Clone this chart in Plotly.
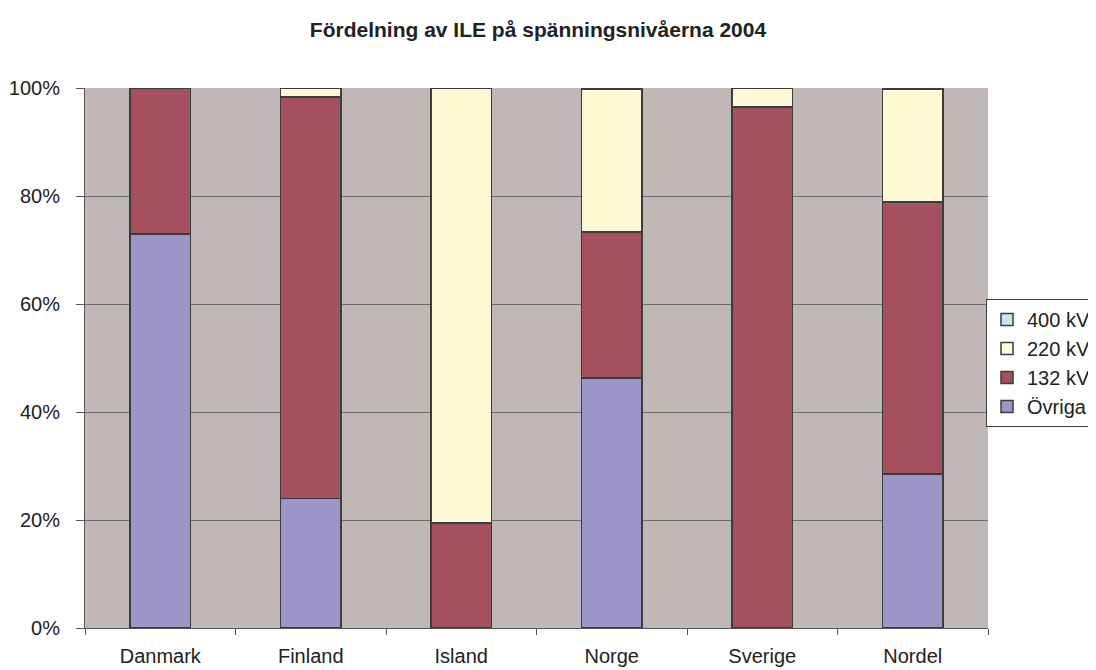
import plotly.graph_objects as go

categories = ["Danmark", "Finland", "Island", "Norge", "Sverige", "Nordel"]
ovriga = [73.0, 24.0, 0.0, 46.3, 0.0, 28.5]
kv132 = [27.0, 74.3, 19.4, 27.0, 96.5, 50.4]
kv220 = [0.0, 1.7, 80.6, 26.4, 3.5, 20.8]
kv400 = [0.0, 0.0, 0.0, 0.3, 0.0, 0.3]
y_ticks = [0, 20, 40, 60, 80, 100]
y_tick_labels = ["0%", "20%", "40%", "60%", "80%", "100%"]

series = [
    ("Övriga", ovriga, "#9C96C8"),
    ("132 kV", kv132, "#A5505E"),
    ("220 kV", kv220, "#FFFAD6"),
    ("400 kV", kv400, "#C2EAF2"),
]

W, H = 1088, 662  # page adds an 8px body margin

fig = go.Figure()
for name, vals, col in series:
    fig.add_trace(go.Bar(
        x=categories, y=vals, name=name,
        marker=dict(color=col, line=dict(color="#3C3C3C", width=1.5)),
        hovertemplate="%{x}: %{y}%<extra>" + name + "</extra>",
    ))

fig.update_layout(
    barmode="stack",
    bargap=0.595,
    width=W, height=H,
    paper_bgcolor="white",
    plot_bgcolor="#C0B8B6",
    margin=dict(l=77, r=108, t=80, b=42, autoexpand=False),
    font=dict(family="Liberation Sans, Arial, sans-serif", size=20, color="#222222"),
    title=dict(
        text="<b>Fördelning av ILE på spänningsnivåerna 2004</b>",
        x=530 / W, xanchor="center", xref="container",
        y=1 - 22 / H, yanchor="middle", yref="container",
        font=dict(size=21, color="#222222"),
    ),
    showlegend=True,
    legend=dict(
        traceorder="reversed",
        x=978 / W, xref="container", xanchor="left",
        y=1 - 291 / H, yref="container", yanchor="top",
        bordercolor="#3C3C3C", borderwidth=1,
        bgcolor="white",
        font=dict(size=20),
        tracegroupgap=0,
        itemwidth=30,
    ),
    xaxis=dict(
        type="category",
        tickson="boundaries",
        ticks="outside", ticklen=6, tickcolor="#555555",
        showline=True, linecolor="#555555", linewidth=1,
        showgrid=False,
        ticklabelstandoff=10,
        tickfont=dict(size=20),
    ),
    yaxis=dict(
        range=[0, 100],
        tickvals=y_ticks, ticktext=y_tick_labels,
        ticks="outside", ticklen=8, tickcolor="#555555",
        showline=True, linecolor="#555555", linewidth=1,
        showgrid=True, gridcolor="#6E6E6E", gridwidth=1,
        zeroline=False,
        ticklabelstandoff=12,
        tickfont=dict(size=20),
    ),
)

fig.write_html("out.html")
